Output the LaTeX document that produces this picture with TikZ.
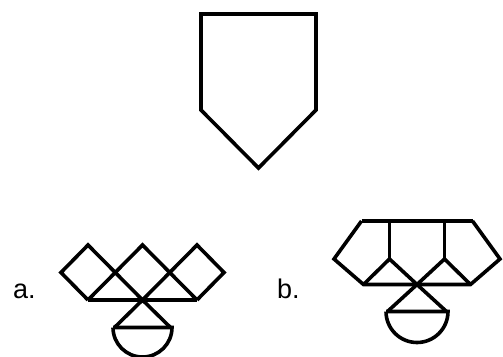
\documentclass[tikz,border=0pt]{standalone}
\usepackage{fontspec}
\setmainfont{Liberation Sans}
\begin{document}
\begin{tikzpicture}[x=1pt,y=-1pt,
  shp/.style={line width=3.6pt, line join=miter, draw=black},
  lbl/.style={anchor=base west, inner sep=0pt, font=\fontsize{27}{30}\selectfont}]
\useasboundingbox (0,0) rectangle (503,356);
% top shape
\coordinate (t1) at (201,14);
\coordinate (t2) at (316,14);
\coordinate (t3) at (316,110);
\coordinate (t4) at (258.5,168);
\coordinate (t5) at (201,110);
\draw[shp] (t1) -- (t2) -- (t3) -- (t4) -- (t5) -- cycle;

% figure a
\node[lbl] (la) at (13,298) {a.};
\coordinate (ac) at (142.5,300);
\coordinate (abl) at (88,300);
\coordinate (abr) at (197,300);
\coordinate (alc) at (61,272.5);
\coordinate (arc) at (224,272.5);
\coordinate (at1) at (88,245);
\coordinate (at2) at (142.5,245);
\coordinate (at3) at (197,245);
\coordinate (ald) at (114.5,327.5);
\coordinate (ard) at (170.5,327.5);
\draw[shp] (abl) -- (abr);
\draw[shp] (abl) -- (alc) -- (at1) -- (ac);
\draw[shp] (abl) -- (at2) -- (abr);
\draw[shp] (abr) -- (arc) -- (at3) -- (ac);
\draw[shp] (ald) -- (ac) -- (ard);
\draw[shp] (113,327.5) -- (172,327.5) arc[start angle=0,end angle=180,radius=29.5];

% figure b
\node[lbl] (lb) at (277,298) {b.};
\coordinate (bc) at (417,284.5);
\coordinate (btl) at (361.5,221);
\coordinate (btr) at (472.5,221);
\coordinate (bv1) at (389.5,221);
\coordinate (bv2) at (444.5,221);
\coordinate (bm1) at (389.5,259);
\coordinate (bm2) at (444.5,259);
\coordinate (blp) at (334,259);
\coordinate (brp) at (500,259);
\coordinate (bbl) at (363.5,284.5);
\coordinate (bbr) at (470.5,284.5);
\coordinate (bld) at (387.5,311.5);
\coordinate (brd) at (446.5,311.5);
\draw[shp] (btl) -- (btr);
\draw[shp] (btl) -- (blp) -- (bbl) -- (bbr) -- (brp) -- (btr);
\draw[shp] (bv1) -- (bm1);
\draw[shp] (bv2) -- (bm2);
\draw[shp] (bbl) -- (bm1) -- (bc) -- (bm2) -- (bbr);
\draw[shp] (bld) -- (bc) -- (brd);
\draw[shp] (386,311.5) -- (448,311.5) arc[start angle=0,end angle=180,radius=31];
\end{tikzpicture}
\end{document}
